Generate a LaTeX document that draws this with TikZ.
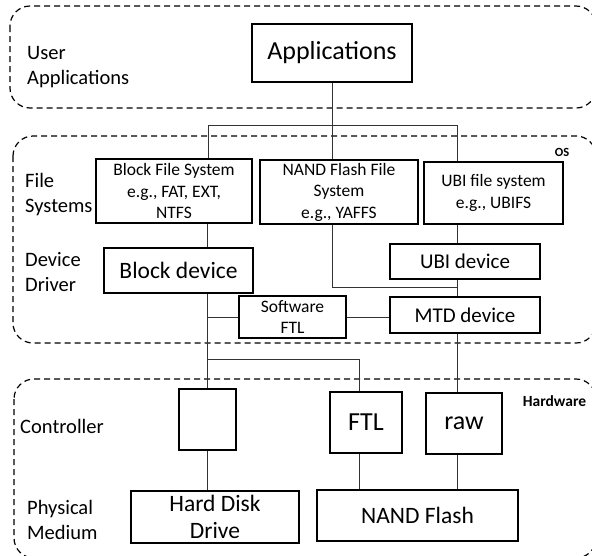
\documentclass[tikz,border=0pt]{standalone}
\usepackage{fontspec}
\setmainfont{Carlito}
\usepackage{tikz}
\usetikzlibrary{positioning, calc}

\begin{document}
\begin{tikzpicture}[x=1pt, y=-1pt,
  box/.style={draw, line width=1.2pt, inner sep=0pt, align=center},
  lbl/.style={anchor=west, inner sep=0pt, align=left, font=\fontsize{20.5}{25}\selectfont},
  tag/.style={inner sep=0pt, font=\bfseries},
  region/.style={draw, dashed, dash pattern=on 6pt off 4pt, line width=1.2pt, rounded corners=20pt},
  wire/.style={line width=0.9pt, black!80}]

  \useasboundingbox (0,0) rectangle (592,555);

  % Layers (dashed regions), the right and bottom edges run off the page
  \draw[region] (10,6) rectangle (596,108);
  \draw[region] (13,136) rectangle (596,343);
  \draw[region] (14,379) rectangle (596,558);

  % Layer names
  \node[lbl] (user) at (27,67) {User\\Applications};
  \node[lbl] (fsys) at (25,194.5) {File\\Systems};
  \node[lbl] (drv) at (25,272) {Device\\Driver};
  \node[lbl] (ctrlname) at (20,426) {Controller};
  \node[lbl] (phys) at (27,520) {Physical\\Medium};
  \node[tag, font=\bfseries\fontsize{12.5}{14}\selectfont] (os) at (562,152) {OS};
  \node[tag, font=\bfseries\fontsize{15.5}{18}\selectfont] (hw) at (554.5,401) {Hardware};

  % Boxes
  \node[box, minimum width=160pt, minimum height=58pt, font=\fontsize{26}{30}\selectfont] (apps) at (332,53) {Applications};
  \node[box, minimum width=156pt, minimum height=64pt, font=\fontsize{17.5}{21.5}\selectfont] (bfs) at (174,191) {Block File System\\e.g., FAT, EXT,\\NTFS};
  \node[box, minimum width=158pt, minimum height=64pt, font=\fontsize{17.5}{21.5}\selectfont] (nfs) at (339,192) {NAND Flash File\\System\\e.g., YAFFS};
  \node[box, minimum width=139pt, minimum height=62pt, font=\fontsize{17.5}{21.5}\selectfont] (ufs) at (493.5,193) {UBI file system\\e.g., UBIFS};
  \node[box, minimum width=149pt, minimum height=45pt, font=\fontsize{23.5}{27}\selectfont] (bdev) at (178.5,270.5) {Block device};
  \node[box, minimum width=150pt, minimum height=35pt, font=\fontsize{21}{25}\selectfont] (udev) at (465,261.5) {UBI device};
  \node[box, minimum width=150pt, minimum height=36pt, font=\fontsize{21}{25}\selectfont] (mtd) at (465,315) {MTD device};
  \node[box, minimum width=107pt, minimum height=42pt, font=\fontsize{17.5}{21.5}\selectfont] (sftl) at (292.5,317) {Software\\FTL};
  \node[box, minimum width=57pt, minimum height=61pt] (ctrl) at (207.5,419.5) {};
  \node[box, minimum width=72pt, minimum height=61pt, font=\fontsize{26}{30}\selectfont] (ftl) at (366,422.5) {FTL};
  \node[box, minimum width=76pt, minimum height=61pt, font=\fontsize{26}{30}\selectfont] (raw) at (464,423.5) {raw};
  \node[box, minimum width=168pt, minimum height=52pt, font=\fontsize{23.5}{27}\selectfont] (hdd) at (215,517) {Hard Disk\\Drive};
  \node[box, minimum width=201pt, minimum height=51pt, font=\fontsize{23.5}{27}\selectfont] (nand) at (417.5,515.5) {NAND Flash};

  % Tap points for the lines that do not leave a box at its middle
  \coordinate (busL) at (208,125);
  \coordinate (busR) at (457,125);
  \coordinate (trunk) at (457,287);
  \coordinate (ftltap) at (359,359);

  % From the applications down to the file systems
  \draw[wire] (apps.south) -- (apps.south |- nfs.north);
  \draw[wire] (bfs.north -| busL) |- (busR) -- (busR |- ufs.north);

  % Block path
  \draw[wire] (bfs.south -| ctrl) -- (bdev.north -| ctrl);
  \draw[wire] (bdev.south -| ctrl) -- (ctrl.north);
  \draw[wire] (sftl.west) -- (sftl.west -| ctrl);
  \draw[wire] (ftltap -| ctrl) -- (ftltap) -- (ftltap |- ftl.north);
  \draw[wire] (ctrl.south) -- (ctrl.south |- hdd.north);

  % Flash path
  \draw[wire] (sftl.east) -- (sftl.east -| mtd.west);
  \draw[wire] (nfs.south -| apps.south) |- (trunk);
  \draw[wire] (ufs.south -| trunk) -- (udev.north -| trunk);
  \draw[wire] (udev.south -| trunk) -- (mtd.north -| trunk);
  \draw[wire] (mtd.south -| trunk) -- (raw.north -| trunk);
  \draw[wire] (ftl.south -| ftltap) -- (nand.north -| ftltap);
  \draw[wire] (raw.south -| trunk) -- (nand.north -| trunk);

\end{tikzpicture}
\end{document}
